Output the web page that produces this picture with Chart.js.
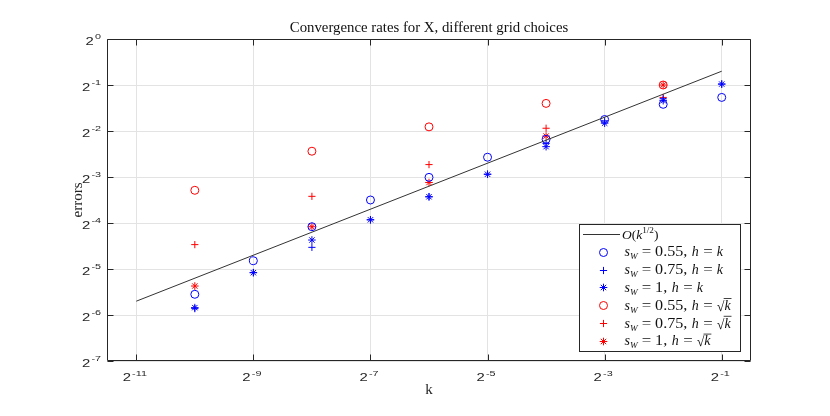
<!DOCTYPE html>
<html><head><meta charset="utf-8">
<script src="https://cdn.jsdelivr.net/npm/chart.js@4"></script>
<style>html,body{margin:0;padding:0;background:#fff;}#wrap{width:830px;height:416px;}</style>
</head><body><div id="wrap"><canvas id="c" width="830" height="416"></canvas></div>
<script>
// ---- data ----
const kAll = [0.0009765625, 0.001953125, 0.00390625, 0.0078125, 0.015625, 0.03125, 0.0625, 0.125, 0.25, 0.5];
const kSqrt = [0.0009765625, 0.00390625, 0.015625, 0.0625, 0.25];
const errBlue055 = [0.02135, 0.0354, 0.0591, 0.0884, 0.1243, 0.1684, 0.2207, 0.2973, 0.3737, 0.4147];
const errBlue075 = [0.0172, 0.0296, 0.0433, 0.0656, 0.0928, 0.1303, 0.2073, 0.2912, 0.4061, 0.507];
const errBlue1   = [0.01746, 0.02956, 0.04836, 0.0656, 0.0928, 0.1303, 0.1975, 0.2813, 0.395, 0.507];
const errRed055 = [0.1023, 0.1843, 0.2661, 0.3789, 0.5];
const errRed075 = [0.04513, 0.0934, 0.1507, 0.2606, 0.4147];
const errRed1   = [0.02418, 0.0591, 0.1150, 0.2316, 0.5];
const refK = [0.00048828125, 0.5];
const refErr = [0.01924, 0.6156];
const xTickExp = ['-11', '-9', '-7', '-5', '-3', '-1'];
const xTickVal = [0.00048828125, 0.001953125, 0.0078125, 0.03125, 0.125, 0.5];
const yTickExp = ['0', '-1', '-2', '-3', '-4', '-5', '-6', '-7'];
const yTickVal = [1, 0.5, 0.25, 0.125, 0.0625, 0.03125, 0.015625, 0.0078125];
const xMin = 0.000345267, xMax = 0.707107, yMin = 0.0078125, yMax = 1;
const titleText = 'Convergence rates for X, different grid choices';
const xLabel = 'k', yLabel = 'errors';

const BLUE = 'rgb(0,0,255)', RED = 'rgb(255,0,0)';
const pts = (xs, ys) => xs.map((x, i) => ({x: x, y: ys[i]}));

const SERIF = '"Liberation Serif", "Times New Roman", serif';
const SANS = '"Liberation Sans", Arial, sans-serif';

function mk(label, xs, ys, color, style, r) {
  return {label, data: pts(xs, ys), showLine: false, pointStyle: style, pointRadius: r,
    pointHoverRadius: r, pointBorderColor: color, pointBackgroundColor: 'rgba(0,0,0,0)',
    borderColor: color, backgroundColor: 'rgba(0,0,0,0)', pointBorderWidth: 1};
}

const datasets = [
  {label: 'ref', data: pts(refK, refErr), showLine: true, pointRadius: 0, borderColor: '#333', borderWidth: 1, fill: false},
  mk('b055', kAll, errBlue055, BLUE, 'circle', 4),
  mk('b075', kAll, errBlue075, BLUE, 'cross', 3.6),
  mk('b1', kAll, errBlue1, BLUE, 'star', 3.8),
  mk('r055', kSqrt, errRed055, RED, 'circle', 4),
  mk('r075', kSqrt, errRed075, RED, 'cross', 3.6),
  mk('r1', kSqrt, errRed1, RED, 'star', 3.8),
];

// rich text: segments {t, it, sub, sup, sqrt, sx, gap}
function rich(ctx, x, y, segs, size) {
  let cx = x;
  for (const s of segs) {
    if (s.gap) { cx += s.gap; continue; }
    const fs = s.sub ? size * 0.66 : (s.sup ? size * 0.68 : size);
    const dy = s.sub ? size * 0.22 : (s.sup ? -size * 0.42 : 0);
    const sx = s.sx || 1;
    if (s.sqrt) {
      ctx.font = size + 'px ' + SERIF;
      const rw = ctx.measureText('\u221A').width;
      ctx.fillText('\u221A', cx, y + 1);
      ctx.font = 'italic ' + size + 'px ' + SERIF;
      const kw = ctx.measureText(s.t).width;
      ctx.fillText(s.t, cx + rw, y);
      ctx.beginPath();
      ctx.lineWidth = 0.8;
      ctx.moveTo(cx + rw - 0.8, y - size * 0.8);
      ctx.lineTo(cx + rw + kw + 0.8, y - size * 0.8);
      ctx.stroke();
      cx += rw + kw;
    } else {
      ctx.font = (s.it ? 'italic ' : '') + fs + 'px ' + SERIF;
      const w = ctx.measureText(s.t).width;
      ctx.save();
      ctx.translate(cx, y + dy);
      ctx.scale(sx, 1);
      ctx.fillText(s.t, 0, 0);
      ctx.restore();
      cx += w * sx;
    }
  }
  return cx;
}

function sw(val, sq) {
  return [{t: 's', it: 1}, {t: 'W', it: 1, sub: 1}, {gap: 4}, {t: '=', sx: 1.2}, {gap: 4},
    {t: val + ',', sx: 1.15}, {gap: 4.5}, {t: 'h', it: 1}, {gap: 4.5}, {t: '=', sx: 1.2}, {gap: 4},
    sq ? {t: 'k', sqrt: 1} : {t: 'k', it: 1}];
}

const legendRows = [
  {kind: 'line', segs: [{t: 'O', it: 1}, {t: '('}, {t: 'k', it: 1}, {t: '1/2', sup: 1}, {t: ')'}]},
  {ds: 1, segs: sw('0.55', false)},
  {ds: 2, segs: sw('0.75', false)},
  {ds: 3, segs: sw('1', false)},
  {ds: 4, segs: sw('0.55', true)},
  {ds: 5, segs: sw('0.75', true)},
  {ds: 6, segs: sw('1', true)},
];

const TSX = 1.35;
function drawPow(ctx, x, y, exp, align) {
  ctx.font = '11px ' + SANS;
  const w2 = ctx.measureText('2').width * TSX;
  ctx.font = '8px ' + SANS;
  const we = ctx.measureText(exp).width * TSX;
  const gap = 1.2;
  const tot = w2 + gap + we;
  const x0 = align === 'center' ? x - tot / 2 : x - tot;
  ctx.textAlign = 'left';
  ctx.textBaseline = 'alphabetic';
  ctx.save();
  ctx.translate(x0, y); ctx.scale(TSX, 1);
  ctx.font = '11px ' + SANS;
  ctx.fillText('2', 0, 0);
  ctx.restore();
  ctx.save();
  ctx.translate(x0 + w2 + gap, y - 5.5); ctx.scale(TSX, 1);
  ctx.font = '8px ' + SANS;
  ctx.fillText(exp, 0, 0);
  ctx.restore();
}

const deco = {
  id: 'deco',
  afterDraw(chart) {
    const {ctx, chartArea: a, scales: {x, y}} = chart;
    ctx.save();
    const L = Math.round(a.left) + 0.5, R = Math.round(a.right) - 0.5;
    const T = Math.round(a.top) + 0.5, B = Math.round(a.bottom) - 0.5;
    ctx.strokeStyle = '#262626';
    ctx.lineWidth = 1;
    ctx.beginPath();
    ctx.rect(L, T, R - L, B - T);
    const tl = 6;
    xTickVal.forEach(v => {
      const px = Math.round(x.getPixelForValue(v)) + 0.5;
      ctx.moveTo(px, B); ctx.lineTo(px, B - tl);
      ctx.moveTo(px, T); ctx.lineTo(px, T + tl);
    });
    yTickVal.forEach(v => {
      const py = Math.round(y.getPixelForValue(v)) + 0.5;
      ctx.moveTo(L, py); ctx.lineTo(L + tl, py);
      ctx.moveTo(R, py); ctx.lineTo(R - tl, py);
    });
    ctx.stroke();
    // tick labels
    ctx.fillStyle = '#262626';
    xTickVal.forEach((v, i) => drawPow(ctx, x.getPixelForValue(v) - 1.5, B + 20.5, xTickExp[i], 'center'));
    yTickVal.forEach((v, i) => drawPow(ctx, L - 6.5, y.getPixelForValue(v) + 5.5, yTickExp[i], 'right'));
    // title & axis labels
    ctx.fillStyle = '#111';
    ctx.textAlign = 'center';
    ctx.textBaseline = 'alphabetic';
    ctx.font = '14.8px ' + SERIF;
    ctx.fillText(titleText, (a.left + a.right) / 2, 31.5);
    ctx.fillStyle = '#262626';
    ctx.font = '15px ' + SERIF;
    ctx.fillText(xLabel, (a.left + a.right) / 2, 393.5);
    ctx.save();
    ctx.translate(82, (a.top + a.bottom) / 2);
    ctx.rotate(-Math.PI / 2);
    ctx.fillText(yLabel, 0, 0);
    ctx.restore();
    // legend
    const lx0 = 579.5, ly0 = 224.5, lx1 = 740.5, ly1 = 351.5;
    ctx.fillStyle = '#fff';
    ctx.fillRect(lx0, ly0, lx1 - lx0, ly1 - ly0);
    ctx.strokeStyle = '#262626';
    ctx.lineWidth = 1;
    ctx.strokeRect(lx0, ly0, lx1 - lx0, ly1 - ly0);
    legendRows.forEach((row, i) => {
      const cy = 234 + i * 17.8;
      if (row.kind === 'line') {
        ctx.strokeStyle = '#333';
        ctx.lineWidth = 1;
        ctx.beginPath();
        ctx.moveTo(583, Math.round(cy) + 0.5); ctx.lineTo(620, Math.round(cy) + 0.5);
        ctx.stroke();
      } else {
        const ds = chart.data.datasets[row.ds];
        ctx.strokeStyle = ds.pointBorderColor;
        ctx.fillStyle = 'rgba(0,0,0,0)';
        ctx.lineWidth = 1;
        Chart.helpers.drawPoint(ctx, {pointStyle: ds.pointStyle, radius: ds.pointRadius, rotation: 0, borderWidth: 1}, 603.5, Math.round(cy) + 0.5);
      }
      ctx.fillStyle = '#111';
      ctx.strokeStyle = '#111';
      ctx.textAlign = 'left';
      ctx.textBaseline = 'alphabetic';
      rich(ctx, i === 0 ? 622 : 624.5, cy + 4.5, row.segs, i === 0 ? 13.5 : 14);
    });
    ctx.restore();
  }
};

function fixX(s) { s.ticks = xTickVal.map(v => ({value: v})); s.min = xMin; s.max = xMax; }
function fixY(s) { s.ticks = yTickVal.map(v => ({value: v})); s.min = yMin; s.max = yMax; }

new Chart(document.getElementById('c'), {
  type: 'scatter',
  data: {datasets},
  options: {
    responsive: false,
    animation: false,
    devicePixelRatio: 1,
    layout: {padding: {left: 107, right: 79, top: 39, bottom: 55}},
    plugins: {legend: {display: false}, title: {display: false}, tooltip: {enabled: false}},
    scales: {
      x: {
        type: 'logarithmic', min: xMin, max: xMax, bounds: 'data',
        afterBuildTicks: fixX,
        afterFit: s => { s.height = 0; },
        ticks: {display: false},
        grid: {color: '#e3e3e3', drawTicks: false, lineWidth: 1},
        border: {display: false},
        title: {display: false}
      },
      y: {
        type: 'logarithmic', min: yMin, max: yMax, bounds: 'data',
        afterBuildTicks: fixY,
        afterFit: s => { s.width = 0; },
        ticks: {display: false},
        grid: {color: '#e3e3e3', drawTicks: false, lineWidth: 1},
        border: {display: false},
        title: {display: false}
      }
    }
  },
  plugins: [deco]
});
</script>
</body></html>
